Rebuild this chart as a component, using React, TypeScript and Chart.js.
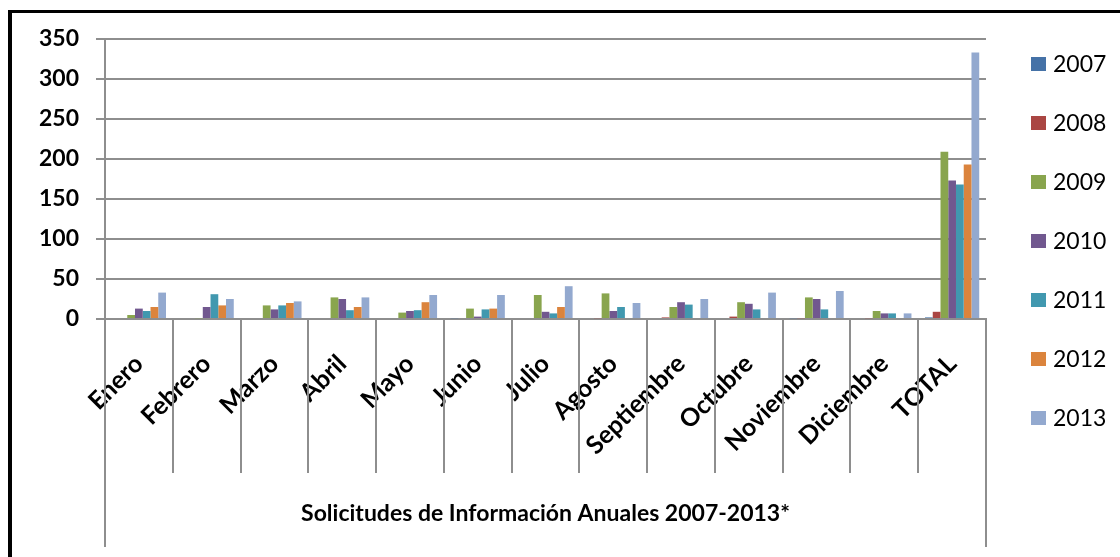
import React, { useEffect, useRef } from 'react';
import { Chart, registerables } from 'chart.js';

Chart.register(...registerables);

const categories = ['Enero', 'Febrero', 'Marzo', 'Abril', 'Mayo', 'Junio', 'Julio', 'Agosto', 'Septiembre', 'Octubre', 'Noviembre', 'Diciembre', 'TOTAL'];
const seriesLabels = ['2007', '2008', '2009', '2010', '2011', '2012', '2013'];
const s2007 = [0, 0, 0, 0, 0, 1, 0, 0, 0, 0, 1, 0, 2];
const s2008 = [0, 0, 0, 0, 0, 0, 0, 1, 2, 3, 1, 1, 9];
const s2009 = [5, 1, 17, 27, 8, 13, 30, 32, 15, 21, 27, 10, 209];
const s2010 = [13, 15, 12, 25, 10, 3, 9, 10, 21, 19, 25, 7, 173];
const s2011 = [10, 31, 17, 11, 11, 12, 7, 15, 18, 12, 12, 7, 168];
const s2012 = [15, 17, 20, 15, 21, 13, 15, 0, 0, 0, 0, 0, 193];
const s2013 = [33, 25, 22, 27, 30, 30, 41, 20, 25, 33, 35, 7, 333];
const seriesValues = [s2007, s2008, s2009, s2010, s2011, s2012, s2013];
const seriesColors = ['#4572A7', '#AA4643', '#89A54E', '#71588F', '#4198AF', '#DB843D', '#93A9CF'];
const yMin = 0;
const yMax = 350;
const yStep = 50;
const axisTitle = 'Solicitudes de Información Anuales 2007-2013*';

const GRID = '#8E8E8E';
const FONT = 'Lato, "Noto Sans", sans-serif';

const separators = {
  id: 'separators',
  afterDraw(chart: any) {
    const x = chart.scales.x;
    const ctx = chart.ctx;
    const n = chart.data.labels.length;
    ctx.save();
    ctx.strokeStyle = GRID;
    ctx.lineWidth = 2;
    for (let i = 0; i <= n; i++) {
      const px = Math.round(x.getPixelForValue(i - 0.5));
      const end = i === 0 || i === n ? 547 : 473;
      ctx.beginPath();
      ctx.moveTo(px, chart.chartArea.bottom);
      ctx.lineTo(px, end);
      ctx.stroke();
    }
    ctx.restore();
  },
};

const sideLegend = {
  id: 'sideLegend',
  afterDraw(chart: any) {
    const ctx = chart.ctx;
    ctx.save();
    ctx.font = `23px ${FONT}`;
    ctx.textBaseline = 'middle';
    ctx.textAlign = 'left';
    chart.data.datasets.forEach((ds: any, i: number) => {
      const cy = 64 + i * 59;
      ctx.fillStyle = ds.backgroundColor;
      ctx.fillRect(1031, cy - 7, 15, 14);
      ctx.fillStyle = '#000';
      ctx.fillText(ds.label, 1053, cy + 1);
    });
    ctx.restore();
  },
};

export default function App() {
  const ref = useRef<HTMLCanvasElement>(null);
  useEffect(() => {
    const canvas = ref.current;
    if (!canvas) return;
    const chart = new Chart(canvas, {
      type: 'bar',
      data: {
        labels: categories,
        datasets: seriesLabels.map((l, i) => ({
          label: l,
          data: seriesValues[i],
          backgroundColor: seriesColors[i],
          borderWidth: 0,
          categoryPercentage: 0.8,
          barPercentage: 1.0,
        })),
      },
      options: {
        animation: false,
        responsive: false,
        maintainAspectRatio: false,
        layout: { padding: { left: 0, right: 134, top: 39, bottom: 0 } },
        plugins: {
          legend: { display: false },
          tooltip: { enabled: false },
          title: { display: false },
        },
        scales: {
          x: {
            grid: { display: false, drawTicks: false },
            border: { display: true, color: GRID, width: 2 },
            ticks: {
              autoSkip: false,
              minRotation: 45,
              maxRotation: 45,
              padding: 30,
              color: '#000',
              font: { family: FONT, size: 25, weight: 'bold' },
            },
            title: {
              display: true,
              text: axisTitle,
              color: '#000',
              font: { family: FONT, size: 23, weight: 'bold' },
              padding: { top: 0, bottom: 30 },
            },
            afterFit: (scale: any) => {
              scale.height = 238;
            },
          },
          y: {
            min: yMin,
            max: yMax,
            ticks: {
              stepSize: yStep,
              padding: 17,
              color: '#000',
              font: { family: FONT, size: 23, weight: 'bold' },
            },
            grid: { color: GRID, lineWidth: 2, tickLength: 9 },
            border: { display: true, color: GRID, width: 2 },
            afterFit: (scale: any) => {
              scale.width = 105;
            },
          },
        },
      },
      plugins: [separators, sideLegend],
    });
    return () => chart.destroy();
  }, []);

  return (
    <div style={{ position: 'fixed', left: 0, top: 0, width: 1120, height: 557, overflow: 'hidden', background: '#fff' }}>
      <canvas ref={ref} width={1120} height={557} style={{ position: 'absolute', left: 0, top: 0, width: 1120, height: 557 }} />
      <div style={{ position: 'absolute', left: 8, top: 10, width: 1200, height: 700, borderLeft: '4px solid #000', borderTop: '3px solid #000', pointerEvents: 'none' }} />
    </div>
  );
}
